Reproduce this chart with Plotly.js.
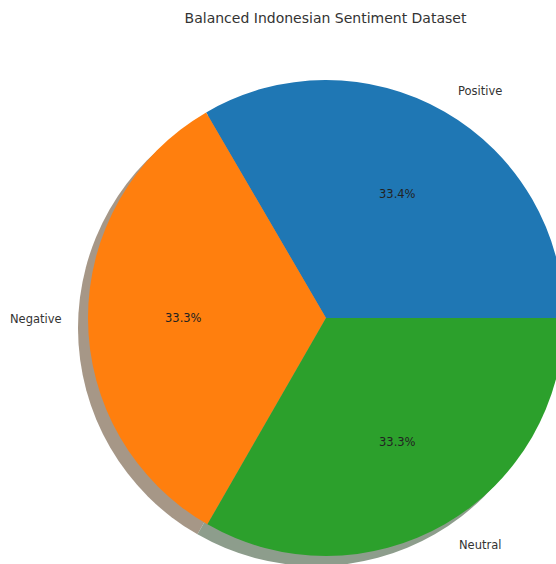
<!DOCTYPE html>
<html><head><meta charset="utf-8">
<script src="https://cdn.plot.ly/plotly-3.0.1.min.js"></script>
<style>html,body{margin:0;padding:0;overflow:hidden;width:556px;height:564px;background:#fff}#c{width:600px;height:580px}</style>
</head><body><div id="c"></div>
<script>
const labels = ['Positive', 'Negative', 'Neutral'];
const values = [33.4, 33.3, 33.3];
const colors = ['#1f77b4', '#ff7f0e', '#2ca02c'];
const shadowColors = ['#7e8f9c', '#a69787', '#8d9d8c'];
const titleText = 'Balanced Indonesian Sentiment Dataset';

const W = 600, H = 580;
const cx = 326, cy = 318, R = 238;   // pixel geometry of the pie
const sdx = -10, sdy = 10;           // shadow offset

function dom(x, y) {
  return { x: [(x - R) / W, (x + R) / W], y: [(H - (y + R)) / H, (H - (y - R)) / H] };
}

const total = values.reduce((a, b) => a + b, 0);
// first slice starts at 3 o'clock, going counterclockwise
const rot = 90 - values[0] / total * 360;

const annotations = [];
let start = 0;
values.forEach((v, i) => {
  const span = v / total * 360;
  const mid = (start + span / 2) * Math.PI / 180;
  start += span;
  const c = Math.cos(mid), s = Math.sin(mid);
  annotations.push({
    xref: 'paper', yref: 'paper',
    x: (cx + 0.6 * R * c) / W, y: (H - (cy - 0.6 * R * s)) / H,
    text: (v / total * 100).toFixed(1) + '%', showarrow: false,
    xanchor: 'center', yanchor: 'middle',
    font: { family: 'DejaVu Sans', size: 11.5, color: '#222' }
  });
  annotations.push({
    xref: 'paper', yref: 'paper',
    x: (cx + 1.1 * R * c) / W, y: (H - (cy - 1.1 * R * s)) / H,
    text: labels[i], showarrow: false,
    xanchor: c >= 0 ? 'left' : 'right', yanchor: 'middle',
    font: { family: 'DejaVu Sans', size: 11.5, color: '#333' }
  });
});

const common = {
  type: 'pie', values: values, sort: false,
  direction: 'counterclockwise', rotation: rot,
  textinfo: 'none', hoverinfo: 'none', showlegend: false
};

const data = [
  Object.assign({}, common, {
    labels: labels.map(l => 'shadow ' + l),
    domain: dom(cx + sdx, cy + sdy),
    marker: { colors: shadowColors, line: { width: 0 } }
  }),
  Object.assign({}, common, {
    labels: labels,
    domain: dom(cx, cy),
    marker: { colors: colors, line: { width: 0 } }
  })
];

const layout = {
  width: W, height: H,
  margin: { l: 0, r: 0, t: 0, b: 0 },
  paper_bgcolor: '#fff', plot_bgcolor: '#fff',
  title: {
    text: titleText, xref: 'paper', x: 325.5 / W, xanchor: 'center',
    yref: 'container', y: 1 - 18 / H, yanchor: 'middle',
    font: { family: 'DejaVu Sans', size: 14, color: '#333' }
  },
  annotations: annotations
};

Plotly.newPlot('c', data, layout, { staticPlot: true, displayModeBar: false });
</script></body></html>
